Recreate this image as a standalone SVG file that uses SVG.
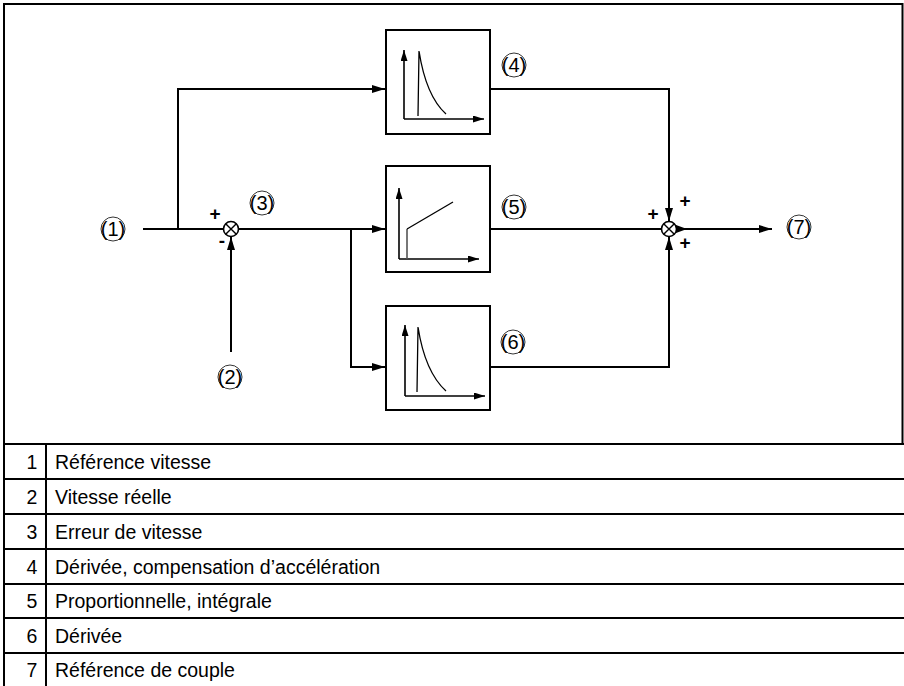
<svg xmlns="http://www.w3.org/2000/svg" width="904" height="686" viewBox="0 0 904 686">
<style>
.ln{fill:none;stroke:#000;stroke-width:2}
.ax{fill:none;stroke:#000;stroke-width:1.6}
.cv{fill:none;stroke:#000;stroke-width:1.3}
.box{fill:#fff;stroke:#000;stroke-width:2}
.lbl{font-family:"Liberation Sans",Arial,sans-serif;font-size:20px;fill:#000}
.sg{font-family:"Liberation Sans",Arial,sans-serif;font-size:19px;font-weight:bold;fill:#000}
.tb{font-family:"Liberation Sans",Arial,sans-serif;font-size:19.5px;fill:#000}
.cr{fill:none;stroke:#000;stroke-width:0.8}
</style>
<defs>
<marker id="ah" markerWidth="13" markerHeight="8" refX="13" refY="4" orient="auto" markerUnits="userSpaceOnUse">
<path d="M0,0 L13,4 L0,8 Z" fill="#000"/>
</marker>
<marker id="as" markerWidth="11" markerHeight="7" refX="11" refY="3.5" orient="auto" markerUnits="userSpaceOnUse">
<path d="M0,0 L11,3.5 L0,7 Z" fill="#000"/>
</marker>
</defs>
<rect width="904" height="686" fill="#fff"/>
<g id="frame">
<path class="ln" d="M4,686 L4,4 L902.5,4 L902.5,444"/>
<path class="ln" d="M4,444 L904,444 M4,479 L904,479 M4,514 L904,514 M4,549 L904,549 M4,584 L904,584 M4,618 L904,618 M4,653 L904,653"/>
<path class="ln" d="M46,444 L46,686"/>
</g>
<g id="table">
<text class="tb" x="32" y="468.5" text-anchor="middle">1</text><text class="tb" x="55" y="468.5">Référence vitesse</text>
<text class="tb" x="32" y="503.5" text-anchor="middle">2</text><text class="tb" x="55" y="503.5">Vitesse réelle</text>
<text class="tb" x="32" y="538.5" text-anchor="middle">3</text><text class="tb" x="55" y="538.5">Erreur de vitesse</text>
<text class="tb" x="32" y="573.5" text-anchor="middle">4</text><text class="tb" x="55" y="573.5">Dérivée, compensation d’accélération</text>
<text class="tb" x="32" y="608" text-anchor="middle">5</text><text class="tb" x="55" y="608">Proportionnelle, intégrale</text>
<text class="tb" x="32" y="642.5" text-anchor="middle">6</text><text class="tb" x="55" y="642.5">Dérivée</text>
<text class="tb" x="32" y="677" text-anchor="middle">7</text><text class="tb" x="55" y="677">Référence de couple</text>
</g>
<g id="connectors">
<path class="ln" d="M143,229 L223,229"/>
<path class="ln" d="M178,229 L178,89 L385,89" marker-end="url(#ah)"/>
<path class="ln" d="M238,229 L385,229" marker-end="url(#ah)"/>
<path class="ln" d="M351,229 L351,367 L385,367" marker-end="url(#ah)"/>
<path class="ln" d="M231,352 L231,237" marker-end="url(#ah)"/>
<path class="ln" d="M490,89 L669,89 L669,221" marker-end="url(#ah)"/>
<path class="ln" d="M490,229 L661,229"/>
<path class="ln" d="M490,367 L669,367 L669,237" marker-end="url(#ah)"/>
<path class="ln" d="M677,229 L772,229" marker-end="url(#ah)"/>
<path d="M676,225 L687,229 L676,233 Z" fill="#000"/>
</g>
<g id="sum1">
<circle cx="231" cy="229" r="7.5" fill="#fff" stroke="#000" stroke-width="1.6"/>
<path d="M225.7,223.7 L236.3,234.3 M236.3,223.7 L225.7,234.3" stroke="#000" stroke-width="1.4"/>
<text class="sg" x="215" y="220" text-anchor="middle">+</text>
<text class="sg" x="222" y="247" text-anchor="middle">-</text>
</g>
<g id="sum2">
<circle cx="669" cy="229" r="7.5" fill="#fff" stroke="#000" stroke-width="1.6"/>
<path d="M663.7,223.7 L674.3,234.3 M674.3,223.7 L663.7,234.3" stroke="#000" stroke-width="1.4"/>
<text class="sg" x="653" y="220" text-anchor="middle">+</text>
<text class="sg" x="685" y="207" text-anchor="middle">+</text>
<text class="sg" x="685" y="249" text-anchor="middle">+</text>
</g>
<g id="block4">
<rect class="box" x="386" y="30" width="104" height="104"/>
<path class="ax" d="M404,119 L404,50" marker-end="url(#as)"/>
<path class="ax" d="M404,119 L484,119" marker-end="url(#as)"/>
<path class="cv" d="M418,116 L419,51 Q426,96 446,114"/>
</g>
<g id="block5">
<rect class="box" x="386" y="166" width="104" height="106"/>
<path class="ax" d="M399,259 L399,188" marker-end="url(#as)"/>
<path class="ax" d="M399,259 L479,259" marker-end="url(#as)"/>
<path d="M407,259 L407,229" fill="none" stroke="#555" stroke-width="1.6"/>
<path class="cv" d="M407,229 L453,202"/>
</g>
<g id="block6">
<rect class="box" x="386" y="306" width="104" height="104"/>
<path class="ax" d="M405,396 L405,325" marker-end="url(#as)"/>
<path class="ax" d="M405,396 L485,396" marker-end="url(#as)"/>
<path class="cv" d="M417,392 L418,327 Q425,372 446,391"/>
</g>
<g id="lab1"><circle class="cr" cx="113" cy="229" r="12"/><text class="lbl" x="113" y="236" text-anchor="middle">(1)</text></g>
<g id="lab2"><circle class="cr" cx="230" cy="377" r="12"/><text class="lbl" x="230" y="384" text-anchor="middle">(2)</text></g>
<g id="lab3"><circle class="cr" cx="262" cy="203" r="12"/><text class="lbl" x="262" y="210" text-anchor="middle">(3)</text></g>
<g id="lab4"><circle class="cr" cx="514" cy="65" r="12"/><text class="lbl" x="514" y="72" text-anchor="middle">(4)</text></g>
<g id="lab5"><circle class="cr" cx="514" cy="207" r="12"/><text class="lbl" x="514" y="214" text-anchor="middle">(5)</text></g>
<g id="lab6"><circle class="cr" cx="513" cy="342" r="12"/><text class="lbl" x="513" y="349" text-anchor="middle">(6)</text></g>
<g id="lab7"><circle class="cr" cx="799" cy="227" r="12"/><text class="lbl" x="799" y="234" text-anchor="middle">(7)</text></g>
</svg>
